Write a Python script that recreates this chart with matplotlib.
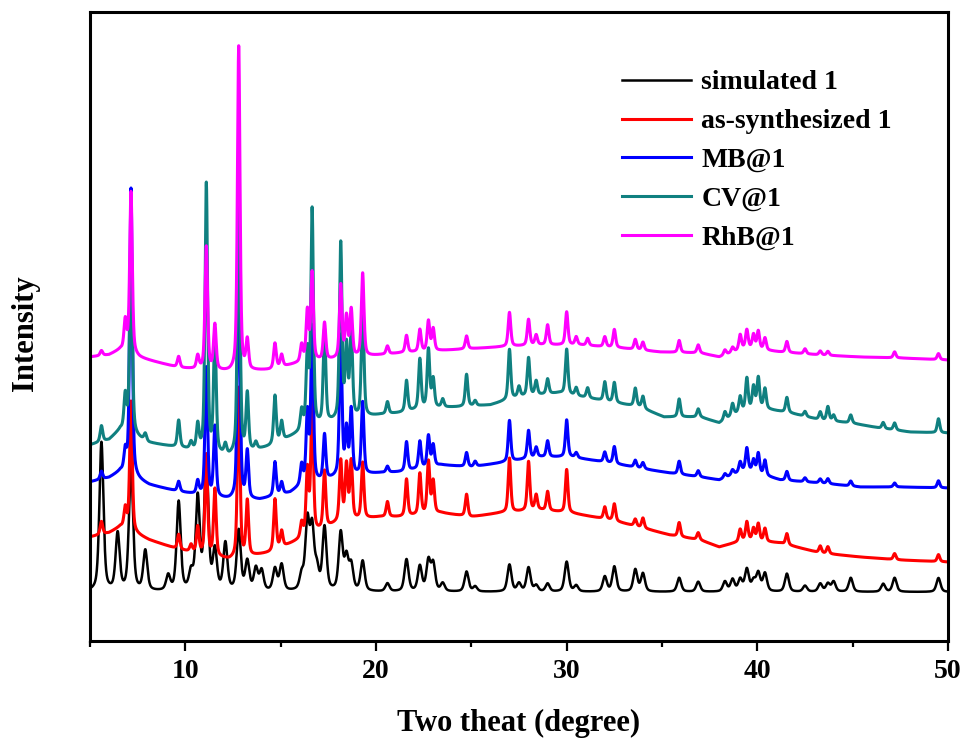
import numpy as np
import matplotlib
matplotlib.use("Agg")
import matplotlib.pyplot as plt

plt.rcParams['font.family'] = ['Liberation Serif', 'DejaVu Serif']
plt.rcParams['font.weight'] = 'bold'

# peak positions (2theta, degree), shared by all patterns
peak_pos = [5.6, 6.45, 6.85, 7.15, 7.9, 9.1, 9.65, 10.3, 10.65, 11.1,
            11.55, 12.1, 12.8, 13.25, 13.7, 14.0, 14.7, 15.05, 16.1, 16.4,
            16.65, 16.9, 17.3, 18.15, 18.45, 18.7, 19.3, 20.6, 21.6, 22.3,
            22.75, 23.0, 23.5, 24.75, 25.2, 27.0, 27.5, 28.0, 28.4, 29.0,
            30.0, 30.5, 31.1, 32.0, 32.5, 33.6, 34.0, 35.9, 36.9, 38.3,
            38.7, 39.1, 39.45, 39.8, 40.05, 40.4, 41.55, 42.5, 43.3, 43.7,
            44.0, 44.9, 46.6, 47.2, 49.5]

# peak heights above each pattern's background (arbitrary units)
h_sim = [149, 57, 0, 125, 40, 15, 89, 17, 92, 132,
         39, 47, 60, 29, 22, 20, 22, 26, 15, 68,
         60, 20, 63, 57, 32, 25, 30, 8, 32, 25,
         30, 27, 8, 20, 5, 27, 8, 24, 6, 8,
         30, 6, 0, 15, 25, 22, 18, 14, 10, 10,
         12, 12, 22, 10, 18, 18, 18, 6, 8, 8,
         10, 14, 8, 14, 14]
h_as = [13, 0, 20, 130, 0, 0, 15, 7, 26, 100,
        67, 0, 170, 55, 0, 0, 51, 16, 15, 65,
        130, 0, 57, 60, 55, 58, 56, 15, 37, 41,
        52, 32, 0, 22, 0, 54, 0, 49, 15, 19,
        43, 0, 0, 12, 17, 7, 10, 14, 7, 0,
        0, 12, 18, 12, 17, 13, 11, 0, 7, 7,
        0, 0, 0, 6, 7]
h_mb = [8, 0, 20, 288, 0, 0, 10, 0, 13, 128,
        70, 0, 260, 47, 0, 0, 34, 12, 20, 70,
        155, 0, 45, 140, 45, 65, 72, 6, 29, 27,
        31, 21, 0, 14, 5, 41, 0, 28, 10, 16,
        37, 5, 0, 10, 17, 7, 6, 13, 6, 4,
        5, 10, 22, 12, 20, 15, 9, 4, 4, 5,
        0, 5, 0, 4, 7]
h_cv = [16, 0, 35, 200, 7, 0, 27, 7, 25, 268,
        120, 10, 277, 57, 7, 0, 48, 19, 20, 75,
        217, 0, 93, 176, 70, 90, 110, 12, 31, 50,
        58, 28, 8, 32, 5, 50, 10, 38, 14, 15,
        45, 8, 10, 19, 20, 18, 12, 18, 8, 8,
        12, 15, 32, 22, 30, 20, 15, 5, 8, 14,
        6, 8, 6, 7, 14]
h_rhb = [5, 0, 30, 162, 0, 0, 11, 0, 13, 123,
         45, 0, 325, 29, 0, 0, 25, 12, 17, 50,
         88, 0, 37, 73, 40, 47, 83, 8, 17, 22,
         30, 22, 0, 13, 0, 34, 0, 26, 10, 20,
         33, 8, 7, 10, 18, 10, 8, 12, 8, 5,
         5, 15, 18, 14, 18, 12, 11, 5, 4, 4,
         0, 0, 0, 6, 6]

# backgrounds (offset included)
bg_sim_x = [5, 50]
bg_sim_y = [49, 49]
bg_as_x = [5, 6, 6.6, 8.1, 9.7, 12.3, 14.4, 16.0, 18.1, 20.2, 21.3, 23.4, 25.0, 26.5,
           28.6, 30.2, 32.3, 34.4, 35.4, 37.0, 38.0, 39.4, 41.2, 43.3, 45.4, 47.5, 50]
bg_as_y = [104, 108, 114, 101, 91, 81, 88, 101, 119, 124, 124, 128, 124, 128,
           131, 128, 121, 111, 106, 101, 94, 101, 98, 88, 84, 81, 79]
bg_mb_x = [5, 6, 6.6, 8.1, 9.7, 12.3, 13.9, 15.5, 16.0, 18.1, 20.2, 21.3, 23.4, 25.0,
           26.5, 28.6, 30.2, 32.3, 34.4, 35.4, 37.0, 38.0, 39.4, 41.2, 43.3, 45.4, 47.5, 50]
bg_mb_y = [159, 163, 169, 156, 149, 141, 141, 148, 154, 164, 168, 169, 176, 174,
           178, 184, 184, 178, 171, 168, 164, 161, 171, 161, 158, 154, 154, 153]
bg_cv_x = [5, 6, 6.6, 8.1, 9.7, 12.3, 13.4, 14.4, 16.0, 17.6, 20.2, 21.3, 22.8, 24.4, 26.0,
           27.5, 29.6, 31.7, 33.8, 35.1, 37.0, 38.0, 39.1, 40.1, 41.7, 43.3, 44.9, 46.4, 48.0, 50]
bg_cv_y = [196, 201, 211, 198, 193, 184, 189, 194, 208, 218, 226, 228, 233, 234, 236,
           244, 248, 241, 234, 224, 224, 218, 229, 233, 228, 221, 218, 213, 209, 208]
bg_rhb_x = [5, 6, 6.6, 7.6, 9.7, 12.3, 14.4, 16.0, 20.2, 21.3, 23.9, 26.5, 28.6, 30.7,
            32.8, 34.9, 37.0, 38.0, 39.4, 41.2, 43.3, 45.4, 47.5, 50]
bg_rhb_y = [284, 286, 291, 283, 273, 269, 271, 278, 286, 288, 291, 294, 296, 296,
            293, 289, 288, 284, 293, 289, 286, 284, 283, 281]

labels = ['simulated 1', 'as-synthesized 1', 'MB@1', 'CV@1', 'RhB@1']
colors = ['#000000', '#ff0000', '#0000ff', '#108080', '#ff00ff']

tt = np.linspace(5, 50, 9001)


def pattern(heights, bx, by, fwhm, eta):
    y = np.interp(tt, bx, by)
    for p, h in zip(peak_pos, heights):
        if h == 0:
            continue
        d = (tt - p) / (fwhm / 2)
        y = y + h * (eta / (1 + d ** 2) + (1 - eta) * np.exp(-np.log(2) * d ** 2))
    return y


curves = [
    pattern(h_sim, bg_sim_x, bg_sim_y, 0.25, 0.5),
    pattern(h_as, bg_as_x, bg_as_y, 0.16, 0.5),
    pattern(h_mb, bg_mb_x, bg_mb_y, 0.16, 0.5),
    pattern(h_cv, bg_cv_x, bg_cv_y, 0.16, 0.5),
    pattern(h_rhb, bg_rhb_x, bg_rhb_y, 0.16, 0.5),
]

fig = plt.figure(figsize=(9.67, 7.49), dpi=100)
ax = fig.add_axes([90 / 967, 108 / 749, 858 / 967, 629 / 749])

for i, (y, lab, c) in enumerate(zip(curves, labels, colors)):
    ax.plot(tt, y, color=c, lw=1.8 if i == 0 else 2.2, label=lab)

ax.set_xlim(5, 50)
ax.set_ylim(0, 629)
ax.set_xticks([10, 20, 30, 40, 50])
ax.set_xticks([5, 15, 25, 35, 45], minor=True)
ax.set_yticks([])
ax.tick_params(axis='x', which='major', direction='out', length=7, width=1.6,
               labelsize=20, pad=6)
ax.tick_params(axis='x', which='minor', direction='out', length=4, width=1.6)
for s in ax.spines.values():
    s.set_linewidth(2.2)

ax.set_xlabel('Two theat (degree)', fontsize=22, fontweight='bold', labelpad=18)
ax.set_ylabel('Intensity', fontsize=22, fontweight='bold')
ax.yaxis.set_label_coords(-0.058, 0.49)

ax.legend(loc='upper left', bbox_to_anchor=(622 / 967, 679 / 749),
          bbox_transform=fig.transFigure, frameon=False, fontsize=20,
          handlelength=2.5, handletextpad=0.36, labelspacing=0.48, borderpad=0,
          borderaxespad=0)

fig.savefig('out.png', dpi=100)
